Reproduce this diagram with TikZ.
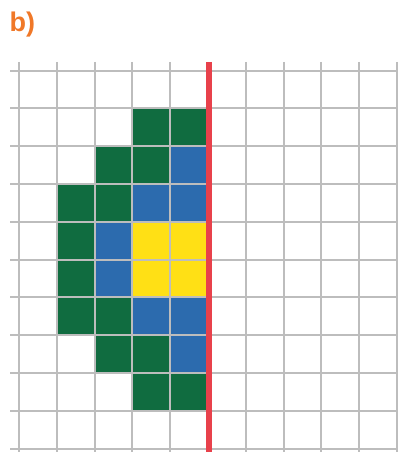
\documentclass[tikz,border=0pt]{standalone}
\usepackage{fontspec}
\setmainfont{Liberation Sans}
\definecolor{cgreen}{HTML}{106C40}
\definecolor{cblue}{HTML}{2C6BAE}
\definecolor{cyellow}{HTML}{FFE015}
\definecolor{cred}{HTML}{E8414B}
\definecolor{cgrid}{HTML}{BDBDBD}
\definecolor{corange}{HTML}{F07828}
\tikzset{
  gridline/.style={draw=cgrid, line width=2pt},
  axisline/.style={draw=cred, line width=6pt},
  lbl/.style={text=corange, font=\bfseries\fontsize{27}{30}\selectfont, inner sep=0pt, anchor=base west}
}
\newcommand{\cellfill}[3]{\fill[#3] ({19+37.8*#1},{70.5+37.8*#2}) rectangle ({19+37.8*(#1+1)},{70.5+37.8*(#2+1)});}
\begin{document}
\begin{tikzpicture}[x=1pt,y=-1pt]
\useasboundingbox (0,0) rectangle (398,452);
\node[lbl] (label) at (9.5,32) {b)};
% coloured cells
\cellfill{3}{1}{cgreen}\cellfill{4}{1}{cgreen}
\cellfill{2}{2}{cgreen}\cellfill{3}{2}{cgreen}\cellfill{4}{2}{cblue}
\cellfill{1}{3}{cgreen}\cellfill{2}{3}{cgreen}\cellfill{3}{3}{cblue}\cellfill{4}{3}{cblue}
\cellfill{1}{4}{cgreen}\cellfill{2}{4}{cblue}\cellfill{3}{4}{cyellow}\cellfill{4}{4}{cyellow}
\cellfill{1}{5}{cgreen}\cellfill{2}{5}{cblue}\cellfill{3}{5}{cyellow}\cellfill{4}{5}{cyellow}
\cellfill{1}{6}{cgreen}\cellfill{2}{6}{cgreen}\cellfill{3}{6}{cblue}\cellfill{4}{6}{cblue}
\cellfill{2}{7}{cgreen}\cellfill{3}{7}{cgreen}\cellfill{4}{7}{cblue}
\cellfill{3}{8}{cgreen}\cellfill{4}{8}{cgreen}
% grid
\foreach \i in {0,...,10} {
  \draw[gridline] ({19+37.8*\i},62) -- ({19+37.8*\i},452);
  \draw[gridline] (10,{70.5+37.8*\i}) -- (398,{70.5+37.8*\i});
}
% red axis
\coordinate (rtop) at (208.5,62);
\coordinate (rbot) at (208.5,452);
\draw[axisline] (rtop) -- (rbot);
\end{tikzpicture}
\end{document}
